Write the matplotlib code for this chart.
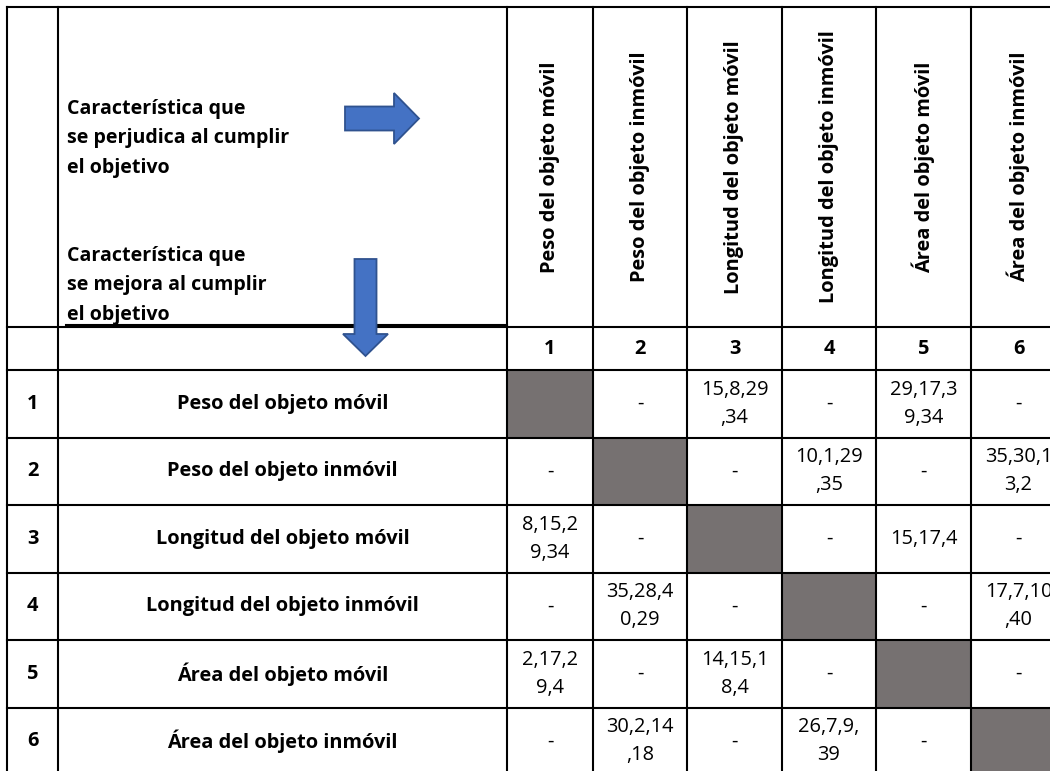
import matplotlib
matplotlib.use("Agg")
import matplotlib.pyplot as plt
from matplotlib.patches import Rectangle, FancyArrow

# ---------------- data ----------------
features = [
    "Peso del objeto móvil",
    "Peso del objeto inmóvil",
    "Longitud del objeto móvil",
    "Longitud del objeto inmóvil",
    "Área del objeto móvil",
    "Área del objeto inmóvil",
]
feature_ids = ["1", "2", "3", "4", "5", "6"]
# principles for each (improved row, worsened column); None = diagonal
row1 = [None, "-", "15,8,29,34", "-", "29,17,39,34", "-"]
row2 = ["-", None, "-", "10,1,29,35", "-", "35,30,13,2"]
row3 = ["8,15,29,34", "-", None, "-", "15,17,4", "-"]
row4 = ["-", "35,28,40,29", "-", None, "-", "17,7,10,40"]
row5 = ["2,17,29,4", "-", "14,15,18,4", "-", None, "-"]
row6 = ["-", "30,2,14,18", "-", "26,7,9,39", "-", None]
matrix = [row1, row2, row3, row4, row5, row6]
worsened_label = ["Característica que", "se perjudica al cumplir", "el objetivo"]
improved_label = ["Característica que", "se mejora al cumplir", "el objetivo"]

# ---------------- layout ----------------
W, H = 1050, 771
col_edges = [7, 58, 507, 593, 687, 782, 876, 971, 1066]
row_edges = [7, 327, 370, 437.5, 505, 572.5, 640, 707.5, 775]
wrap_width = [6, 7, 7, 7, 7, 7]

FONT = ["Open Sans", "DejaVu Sans"]
FS = 14.4
LINE = "black"
LW = 1.5
GRAY = "#767171"
BLUE = "#4472C4"
BLUE_EDGE = "#2F528F"

fig = plt.figure(figsize=(W / 100, H / 100), dpi=100)
ax = fig.add_axes([0, 0, 1, 1])
ax.set_xlim(0, W)
ax.set_ylim(H, 0)
ax.axis("off")

def cx(i):
    return (col_edges[i] + col_edges[i + 1]) / 2

def cy(j):
    return (row_edges[j] + row_edges[j + 1]) / 2

# diagonal gray cells
for k in range(len(features)):
    c = 2 + k
    r = 2 + k
    ax.add_patch(Rectangle((col_edges[c], row_edges[r]),
                           col_edges[c + 1] - col_edges[c],
                           row_edges[r + 1] - row_edges[r],
                           facecolor=GRAY, edgecolor="none", zorder=1))

# grid lines
for x in col_edges[:-1]:
    ax.plot([x, x], [row_edges[0], H + 5], color=LINE, lw=LW, zorder=3,
            solid_capstyle="projecting")
for y in row_edges[:-1]:
    ax.plot([col_edges[0], W + 5], [y, y], color=LINE, lw=LW, zorder=3,
            solid_capstyle="projecting")
# underline under the header text
ax.plot([66, col_edges[2]], [row_edges[1] - 1.8, row_edges[1] - 1.8],
        color=LINE, lw=LW, zorder=3)

# header description texts
for base_y, label in [(114, worsened_label), (261, improved_label)]:
    for i, line in enumerate(label):
        ax.text(67, base_y + i * 29.3, line, ha="left", va="baseline",
                fontsize=FS * 0.98, fontweight="bold", family=FONT, zorder=4)

# arrows
ax.add_patch(FancyArrow(345, 118.5, 74, 0, width=24, head_width=51,
                        head_length=25, length_includes_head=True,
                        facecolor=BLUE, edgecolor=BLUE_EDGE, lw=1.3, zorder=5))
ax.add_patch(FancyArrow(365.5, 259, 0, 97, width=22, head_width=45,
                        head_length=22, length_includes_head=True,
                        facecolor=BLUE, edgecolor=BLUE_EDGE, lw=1.3, zorder=5))

# rotated column headers
for k, name in enumerate(features):
    ax.text(cx(2 + k), cy(0), name, rotation=90, ha="center", va="center",
            fontsize=FS, fontweight="bold", family=FONT, zorder=4,
            rotation_mode="anchor")

# column numbers
for k, fid in enumerate(feature_ids):
    ax.text(cx(2 + k), cy(1), fid, ha="center", va="center",
            fontsize=FS, fontweight="bold", family=FONT, zorder=4)

# row labels
for k, name in enumerate(features):
    ax.text(cx(0), cy(2 + k), feature_ids[k], ha="center", va="center",
            fontsize=FS, fontweight="bold", family=FONT, zorder=4)
    ax.text(cx(1), cy(2 + k), name, ha="center", va="center",
            fontsize=FS, fontweight="bold", family=FONT, zorder=4)

# matrix values
for r, row in enumerate(matrix):
    for c, val in enumerate(row):
        if val is None:
            continue
        lines = [val[i:i + wrap_width[c]] for i in range(0, len(val), wrap_width[c])]
        n = len(lines)
        for i, line in enumerate(lines):
            y = cy(2 + r) + (i - (n - 1) / 2) * 28
            ax.text(cx(2 + c), y, line, ha="center", va="center",
                    fontsize=FS, family=FONT, zorder=4)

fig.savefig("out.png", dpi=100, facecolor="white")
